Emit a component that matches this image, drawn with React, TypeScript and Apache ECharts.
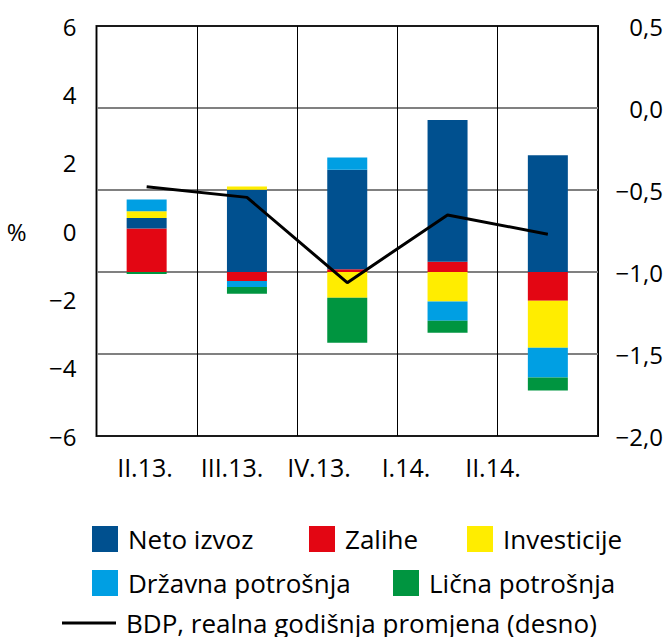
import React, { useEffect, useRef } from "react";
import * as echarts from "echarts";

const categories = ["II.13.", "III.13.", "IV.13.", "I.14.", "II.14."];
const netoIzvoz = [0.31, 2.41, 2.91, 4.15, 3.42];
const zalihe = [1.27, -0.26, 0.08, 0.3, -0.84];
const investicije = [0.2, 0.09, -0.75, -0.86, -1.38];
const drzavnaPotrosnja = [0.34, -0.18, 0.36, -0.57, -0.87];
const licnaPotrosnja = [-0.06, -0.2, -1.32, -0.35, -0.38];
const bdp = [-0.48, -0.545, -1.065, -0.652, -0.77];

const leftTicks = { min: -6, max: 6, interval: 2 };
const rightTicks = { min: -2, max: 0.5, interval: 0.5 };

const FONT = "Open Sans";
const minus = (s: string) => s.replace("-", "\u2212");

export default function App() {
  const ref = useRef<HTMLDivElement>(null);
  useEffect(() => {
    if (!ref.current) return;
    const chart = echarts.init(ref.current, null, { renderer: "svg" });
    const legendText = { color: "#000", fontSize: 26, fontFamily: FONT, padding: [0, 0, 0, 5], lineHeight: 26 };
    const mkLegend = (name: string, left: number, top: number) => ({
      data: [name],
      left,
      top,
      padding: 0,
      icon: "rect",
      itemWidth: 26,
      itemHeight: 26,
      textStyle: legendText,
      selectedMode: false,
    });
    const option: any = {
      animation: false,
      grid: [
        { left: 96.5, top: 26, width: 501.5, height: 410, show: true, borderColor: "#1a1a1a", borderWidth: 2, containLabel: false },
        { left: 101.5, top: 26, width: 435, height: 410, show: false },
      ],
      xAxis: [
        {
          type: "category",
          data: categories,
          gridIndex: 0,
          axisLine: { show: false },
          axisTick: { show: false },
          axisLabel: { show: false },
          splitLine: { show: true, lineStyle: { color: "#000", width: 1 } },
        },
        {
          type: "category",
          data: categories,
          gridIndex: 1,
          axisLine: { show: false },
          axisTick: { show: false },
          axisLabel: { color: "#000", fontSize: 25, fontFamily: FONT, margin: 18 },
          splitLine: { show: false },
        },
      ],
      yAxis: [
        {
          type: "value",
          gridIndex: 0,
          position: "left",
          min: leftTicks.min,
          max: leftTicks.max,
          interval: leftTicks.interval,
          axisLine: { show: false },
          axisTick: { show: false },
          splitLine: { show: false },
          axisLabel: { color: "#000", fontSize: 24, fontFamily: FONT, margin: 20, formatter: (v: number) => minus(String(v)) },
          name: "%",
          nameLocation: "middle",
          nameRotate: 0,
          nameGap: 70,
          nameTextStyle: { color: "#000", fontSize: 24, fontFamily: FONT },
        },
        {
          type: "value",
          gridIndex: 0,
          position: "right",
          min: rightTicks.min,
          max: rightTicks.max,
          interval: rightTicks.interval,
          axisLine: { show: false },
          axisTick: { show: false },
          splitLine: { show: true, showMinLine: false, showMaxLine: false, lineStyle: { color: "#808080", width: 2 } },
          axisLabel: {
            color: "#000",
            fontSize: 24,
            fontFamily: FONT,
            margin: 65,
            align: "right",
            formatter: (v: number) => minus(v.toFixed(1).replace(".", ",")),
          },
        },
        {
          type: "value",
          gridIndex: 0,
          min: -4.8,
          max: 7.2,
          show: false,
          splitLine: { show: false },
        },
        { type: "value", gridIndex: 1, show: false, splitLine: { show: false } },
      ],
      legend: [
        mkLegend("Neto izvoz", 92, 526),
        mkLegend("Zalihe", 309, 526),
        mkLegend("Investicije", 467, 526),
        mkLegend("Državna potrošnja", 92, 570),
        mkLegend("Lična potrošnja", 393, 570),
        {
          data: ["BDP, realna godišnja promjena (desno)"],
          left: 62,
          top: 610,
          padding: 0,
          icon: "rect",
          itemWidth: 54,
          itemHeight: 3,
          itemStyle: { color: "#000" },
          textStyle: legendText,
          selectedMode: false,
        },
      ],
      series: [
        { name: "Zalihe", type: "bar", stack: "a", xAxisIndex: 0, yAxisIndex: 2, barWidth: 40, data: zalihe, itemStyle: { color: "#E30613" } },
        { name: "Neto izvoz", type: "bar", stack: "a", xAxisIndex: 0, yAxisIndex: 2, barWidth: 40, data: netoIzvoz, itemStyle: { color: "#00508F" } },
        { name: "Investicije", type: "bar", stack: "a", xAxisIndex: 0, yAxisIndex: 2, barWidth: 40, data: investicije, itemStyle: { color: "#FFED00" } },
        { name: "Državna potrošnja", type: "bar", stack: "a", xAxisIndex: 0, yAxisIndex: 2, barWidth: 40, data: drzavnaPotrosnja, itemStyle: { color: "#009FE3" } },
        { name: "Lična potrošnja", type: "bar", stack: "a", xAxisIndex: 0, yAxisIndex: 2, barWidth: 40, data: licnaPotrosnja, itemStyle: { color: "#009540" } },
        {
          name: "BDP, realna godišnja promjena (desno)",
          type: "line",
          xAxisIndex: 0,
          yAxisIndex: 1,
          data: bdp,
          symbol: "none",
          z: 5,
          lineStyle: { color: "#000", width: 3 },
          itemStyle: { color: "#000" },
        },
      ],
    };
    chart.setOption(option);
    return () => chart.dispose();
  }, []);
  return <div ref={ref} style={{ position: "fixed", left: 0, top: 0, width: 668, height: 637, background: "#fff" }} />;
}
